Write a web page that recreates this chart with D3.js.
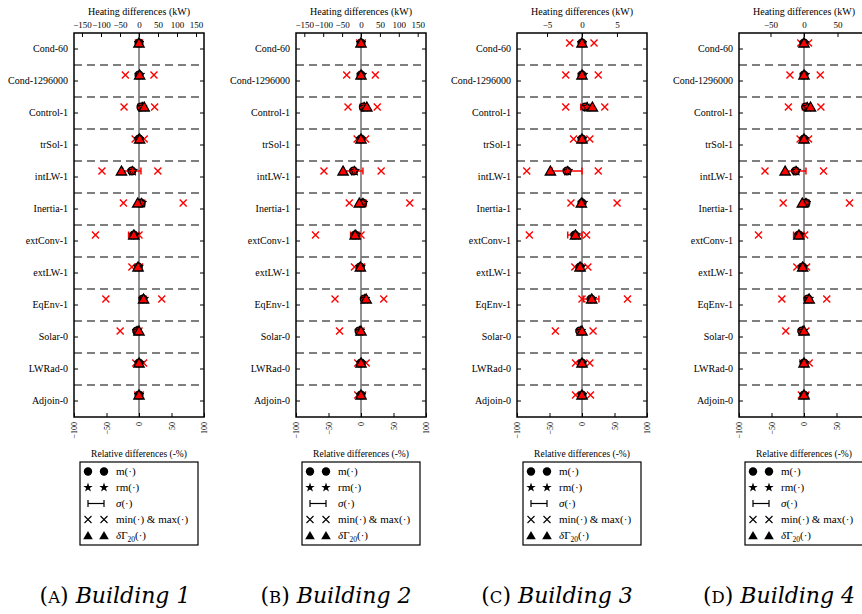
<!DOCTYPE html>
<html><head><meta charset="utf-8">
<script src="https://cdn.jsdelivr.net/npm/d3@7"></script>
<style>body{margin:0;background:#fff}svg{display:block}text{font-family:"Liberation Serif","DejaVu Serif",serif;fill:#000}</style>
</head><body>
<svg id="c" width="862" height="614"></svg>
<script>
const categories = ["Cond-60","Cond-1296000","Control-1","trSol-1","intLW-1","Inertia-1","extConv-1","extLW-1","EqEnv-1","Solar-0","LWRad-0","Adjoin-0"];
const relTicks = [-100,-50,0,50,100];

// Building 1
const m1   = [0, 0, 3, 0, -11, 3, -8, -1, 6, -3.5, 0, 0];
const rm1  = [0, 1, 5, 0, -10, 4, -7, -1, 7, -3, 0.5, 0];
const s1   = [1, 2, 5, 1, 14, 6, 8, 2, 5, 1, 1, 1];
const min1 = [-1, -21, -23, -6, -57, -24, -67, -11, -51, -29, -5, -2];
const max1 = [1, 23, 24, 8, 29, 68, 0, 1, 35, 0, 7, 2];
const dg1  = [0, 1, 8, 1, -27, -2, -8, -1.5, 7, 0, 0, 0];
// Building 2
const m2   = [0, 0, 3.6, 0, -11.4, 2.6, -9, -1, 5, -3, 0, 0];
const rm2  = [0, 1, 5, 0, -10, 3, -8, -1, 6, -2, 0.5, 0];
const s2   = [1, 2, 5, 1, 14.4, 5.4, 7, 2, 4, 1, 1, 1];
const min2 = [-2, -22, -20, -6, -57, -18, -70, -10, -40, -33, -5, -5];
const max2 = [2, 22, 25, 7, 31, 75, 0, 1, 35, 0, 8, 2.6];
const dg2  = [0, 0, 9, 0, -27.6, -2.6, -9, -1, 8, 0, 0, 0];
// Building 3
const m3   = [0, 0, 5, 0, -23, 0, -11, -3, 14, -3.5, 0, 0];
const rm3  = [0, 1, 8, 0, -22, 1, -10, -2, 15, -2, 0, 0];
const s3   = [1, 2, 7, 1, 23, 2, 11, 2, 12, 1, 1, 1];
const min3 = [-19, -25, -25, -13, -85, -17, -81, -11, 0, -41, -10, -10];
const max3 = [18.5, 25, 35, 12, 25, 54, 7, 9, 70, 17, 12, 13];
const dg3  = [0, 0, 16, 0, -48.6, -1, -10, -3, 15, 0, 0, 0];
// Building 4
const m4   = [0, 0, 2.6, 0, -13, 3, -8, -2, 6, -3.5, 0, 0];
const rm4  = [0, 1, 5, 0, -12, 3, -7, -2, 7, -2, 0.5, 0];
const s4   = [1, 2, 5, 1, 16, 5, 8, 2, 4, 1, 1, 1];
const min4 = [-5, -21.6, -24, -6, -60, -32, -70, -11, -34, -28, -2, -4];
const max4 = [7, 25, 26, 7, 30, 70, 1, 4, 35, 3, 8, 3];
const dg4  = [0, 0, 10, 0, -29, -2.6, -8, -2, 8, 0, 0, 0];

const kwTicks1 = [-150,-100,-50,0,50,100,150];
const kwTicks3 = [-5,0,5];
const kwTicks4 = [-50,0,50];
const legendLabels = ["m(·)","rm(·)","σ(·)","min(·) & max(·)","δΓ20(·)"];

const panels = [
  {letter:"A", name:"Building 1", x0:74,  kwMax:171, kwTicks:kwTicks1, cap:115, m:m1, rm:rm1, s:s1, mn:min1, mx:max1, dg:dg1},
  {letter:"B", name:"Building 2", x0:296, kwMax:172, kwTicks:kwTicks1, cap:336, m:m2, rm:rm2, s:s2, mn:min2, mx:max2, dg:dg2},
  {letter:"C", name:"Building 3", x0:517, kwMax:9.3, kwTicks:kwTicks3, cap:557, m:m3, rm:rm3, s:s3, mn:min3, mx:max3, dg:dg3},
  {letter:"D", name:"Building 4", x0:739, kwMax:97,  kwTicks:kwTicks4, cap:779, m:m4, rm:rm4, s:s4, mn:min4, mx:max4, dg:dg4}
];

const svg = d3.select("#c");
const W = 130, yTop = 33, yBot = 417, off = -6;
const RED = "#ff0000";

panels.forEach(p => {
  const g = svg.append("g");
  const x = d3.scaleLinear().domain([-100,100]).range([p.x0, p.x0 + W]);
  const xk = d3.scaleLinear().domain([-p.kwMax, p.kwMax]).range([p.x0, p.x0 + W]);
  const y = d3.scaleBand().domain(categories).range([yTop, yBot]).padding(0);
  const yc = c => y(c) + y.bandwidth()/2;
  const ym = c => yc(c) + off;

  g.selectAll(".sep").data(categories.slice(1)).join("line")
    .attr("x1", p.x0).attr("x2", p.x0 + W)
    .attr("y1", c => y(c)).attr("y2", c => y(c))
    .attr("stroke", "#000").attr("stroke-width", 1.1).attr("stroke-dasharray", "8,5");

  g.append("line").attr("x1", x(0)).attr("x2", x(0)).attr("y1", yTop).attr("y2", yBot)
    .attr("stroke", "#777").attr("stroke-width", 1.6);

  const tl = 4;
  g.append("g").attr("transform", `translate(${p.x0},0)`)
    .call(d3.axisLeft(y).tickSize(-tl).tickPadding(6))
    .call(a => a.select(".domain").remove())
    .call(a => a.selectAll("text").attr("font-size", 10).attr("font-family", "Liberation Serif"));
  g.append("g").attr("transform", `translate(${p.x0 + W},0)`)
    .call(d3.axisRight(y).tickSize(-tl).tickFormat(""))
    .call(a => a.select(".domain").remove());
  g.append("g").attr("transform", `translate(0,${yTop})`)
    .call(d3.axisTop(xk).tickValues(p.kwTicks).tickSize(-tl).tickPadding(5.5).tickFormat(d3.format("d")))
    .call(a => a.select(".domain").remove())
    .call(a => a.selectAll("text").attr("font-size", 9).attr("font-family", "Liberation Serif"));
  const bx = g.append("g").attr("transform", `translate(0,${yBot})`)
    .call(d3.axisBottom(x).tickValues(relTicks).tickSize(-tl).tickFormat(d3.format("d")))
    .call(a => a.select(".domain").remove());
  bx.selectAll("text").attr("font-size", 8).attr("font-family", "Liberation Serif")
    .attr("transform", "rotate(-90)").attr("text-anchor", "end")
    .attr("x", -5).attr("y", 0).attr("dy", "0.32em");

  g.append("rect").attr("x", p.x0).attr("y", yTop).attr("width", W).attr("height", yBot - yTop)
    .attr("fill", "none").attr("stroke", "#000").attr("stroke-width", 1.5);

  g.append("text").attr("x", p.x0 + W/2).attr("y", 15).attr("text-anchor", "middle")
    .attr("font-size", 10).text("Heating differences (kW)");
  g.append("text").attr("x", p.x0 + W/2).attr("y", 457).attr("text-anchor", "middle")
    .attr("font-size", 9.5).text("Relative differences (-%)");

  const idx = d3.range(categories.length);
  const eb = g.selectAll(".eb").data(idx).join("g");
  eb.append("line").attr("x1", i => x(p.m[i] - p.s[i])).attr("x2", i => x(p.m[i] + p.s[i]))
    .attr("y1", i => ym(categories[i])).attr("y2", i => ym(categories[i]))
    .attr("stroke", RED).attr("stroke-width", 1.5);
  [-1, 1].forEach(sg => {
    eb.append("line").attr("x1", i => x(p.m[i] + sg*p.s[i])).attr("x2", i => x(p.m[i] + sg*p.s[i]))
      .attr("y1", i => ym(categories[i]) - 3.5).attr("y2", i => ym(categories[i]) + 3.5)
      .attr("stroke", RED).attr("stroke-width", 1.5);
  });
  const cross = (vals) => {
    g.selectAll(null).data(idx).join("path")
      .attr("transform", i => `translate(${x(vals[i])},${ym(categories[i])})`)
      .attr("d", "M-3.5,-3.5L3.5,3.5M-3.5,3.5L3.5,-3.5")
      .attr("stroke", RED).attr("stroke-width", 1.4).attr("fill", "none");
  };
  cross(p.mn); cross(p.mx);
  g.selectAll(".mc").data(idx).join("path")
    .attr("transform", i => `translate(${x(p.m[i])},${ym(categories[i])})`)
    .attr("d", d3.symbol(d3.symbolCircle, 48))
    .attr("fill", RED).attr("stroke", "#000").attr("stroke-width", 1.3);
  g.selectAll(".rs").data(idx).join("path")
    .attr("transform", i => `translate(${x(p.rm[i])},${ym(categories[i])})`)
    .attr("d", d3.symbol(d3.symbolStar, 30))
    .attr("fill", RED).attr("stroke", "#000").attr("stroke-width", 1);
  g.selectAll(".tr").data(idx).join("path")
    .attr("transform", i => `translate(${x(p.dg[i])},${ym(categories[i]) + 1})`)
    .attr("d", d3.symbol(d3.symbolTriangle, 46))
    .attr("fill", RED).attr("stroke", "#000").attr("stroke-width", 1.3);

  const lx = p.x0 + W/2 - 59, ly = 462;
  g.append("rect").attr("x", lx).attr("y", ly).attr("width", 118).attr("height", 83)
    .attr("fill", "#fff").attr("stroke", "#000").attr("stroke-width", 1.2);
  const rowY = i => ly + 9.5 + i*16;
  legendLabels.forEach((lab, i) => {
    const ry = rowY(i);
    const s1x = lx + 8, s2x = lx + 24;
    if (i === 0) [s1x, s2x].forEach(sx => g.append("circle").attr("cx", sx).attr("cy", ry).attr("r", 4.2).attr("fill", "#000"));
    if (i === 1) [s1x, s2x].forEach(sx => g.append("path").attr("transform", `translate(${sx},${ry})`).attr("d", d3.symbol(d3.symbolStar, 28)).attr("fill", "#000"));
    if (i === 2) {
      g.append("line").attr("x1", s1x).attr("x2", s2x).attr("y1", ry).attr("y2", ry).attr("stroke", "#000").attr("stroke-width", 1.2);
      [s1x, s2x].forEach(sx => g.append("line").attr("x1", sx).attr("x2", sx).attr("y1", ry - 3.5).attr("y2", ry + 3.5).attr("stroke", "#000").attr("stroke-width", 1.2));
    }
    if (i === 3) [s1x, s2x].forEach(sx => g.append("path").attr("transform", `translate(${sx},${ry})`).attr("d", "M-3.5,-3.5L3.5,3.5M-3.5,3.5L3.5,-3.5").attr("stroke", "#000").attr("stroke-width", 1.1));
    if (i === 4) [s1x, s2x].forEach(sx => g.append("path").attr("transform", `translate(${sx},${ry + 1})`).attr("d", d3.symbol(d3.symbolTriangle, 40)).attr("fill", "#000"));
    const t = g.append("text").attr("x", lx + 36).attr("y", ry).attr("dy", "0.35em").attr("font-size", 11);
    if (i === 2) { t.append("tspan").attr("font-style", "italic").text("σ"); t.append("tspan").text("(·)"); }
    else if (i === 4) {
      t.append("tspan").attr("font-style", "italic").text("δ"); t.append("tspan").text("Γ");
      t.append("tspan").attr("font-size", 7.5).attr("dy", "0.3em").text("20");
      t.append("tspan").attr("dy", "-0.25em").text("(·)");
    } else t.text(lab);
  });

  const cap = g.append("text").attr("x", p.cap).attr("y", 603).attr("text-anchor", "middle")
    .attr("font-size", 22).style("font-family", "'DejaVu Serif', serif");
  cap.append("tspan").text("(");
  cap.append("tspan").attr("font-size", 16.5).text(p.letter);
  cap.append("tspan").text(") ");
  cap.append("tspan").attr("font-style", "italic").text(p.name);
});
</script>
</body></html>
